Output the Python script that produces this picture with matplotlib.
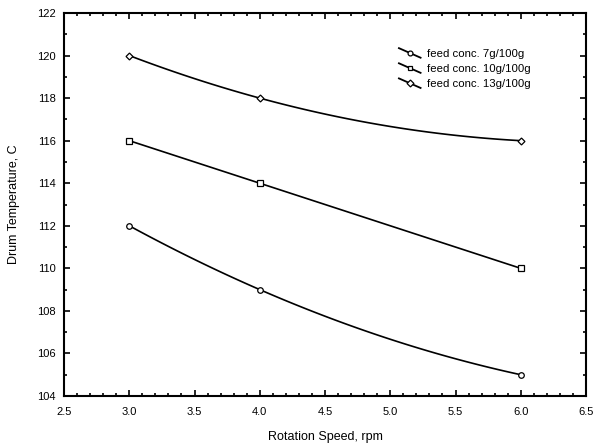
import numpy as np
import matplotlib
matplotlib.use("Agg")
import matplotlib.pyplot as plt
from matplotlib.ticker import MultipleLocator, FormatStrFormatter
from matplotlib.legend_handler import HandlerLine2D
from matplotlib.lines import Line2D

plt.rcParams['font.family'] = ['Liberation Sans', 'DejaVu Sans']

# data
speed = [3.0, 4.0, 6.0]
temp_7g = [112, 109, 105]
temp_10g = [116, 114, 110]
temp_13g = [120, 118, 116]

series = [
    ("feed conc. 7g/100g", temp_7g, 'o'),
    ("feed conc. 10g/100g", temp_10g, 's'),
    ("feed conc. 13g/100g", temp_13g, 'D'),
]


# legend sample drawn as a slanted line with the marker in the middle
class SlantHandler(HandlerLine2D):
    def create_artists(self, legend, orig_handle, xdescent, ydescent,
                       width, height, fontsize, trans):
        x0, x1 = -xdescent, -xdescent + width
        y0, y1 = -ydescent + height * 1.1, -ydescent - height * 0.1
        ln = Line2D([x0, x1], [y0, y1], color='black', lw=1.3, transform=trans)
        mk = Line2D([(x0 + x1) / 2], [(y0 + y1) / 2], linestyle='none',
                    marker=orig_handle.get_marker(), ms=3.5, mfc='white',
                    mec='black', mew=0.9, transform=trans)
        return [ln, mk]


fig = plt.figure(figsize=(5.93, 4.44), dpi=100)
ax = fig.add_axes([64/593, 1 - 396/444, (586-64)/593, (396-13)/444])

xs = np.linspace(min(speed), max(speed), 100)
handles = []
for label, temp, m in series:
    # smooth line through the three points
    coef = np.polyfit(speed, temp, 2)
    ax.plot(xs, np.polyval(coef, xs), color='black', lw=1.2)
    ax.plot(speed, temp, linestyle='none', marker=m, ms=4 if m != 'D' else 3.5,
            mfc='white', mec='black', mew=0.9)
    handles.append(Line2D([], [], color='black', marker=m, label=label))

ax.set_xlim(2.5, 6.5)
ax.set_ylim(104, 122)
ax.xaxis.set_major_locator(MultipleLocator(0.5))
ax.xaxis.set_minor_locator(MultipleLocator(0.1))
ax.yaxis.set_major_locator(MultipleLocator(2))
ax.yaxis.set_minor_locator(MultipleLocator(1))
ax.xaxis.set_major_formatter(FormatStrFormatter('%.1f'))
ax.tick_params(which='both', direction='in', top=True, right=True, labelsize=8, width=1.2)
ax.tick_params(which='major', length=4)
ax.tick_params(which='minor', length=2.5)
ax.tick_params(axis='x', pad=8)
ax.tick_params(axis='y', pad=6)
for s in ax.spines.values():
    s.set_linewidth(1.5)

ax.set_xlabel("Rotation Speed, rpm", fontsize=9, labelpad=10)
ax.set_ylabel("Drum Temperature, C", fontsize=9, labelpad=12)

ax.legend(handles=handles, loc='upper left', bbox_to_anchor=(0.622, 0.933),
          frameon=False, fontsize=8.2, handlelength=1.9, handletextpad=0.6,
          labelspacing=0.45, handler_map={Line2D: SlantHandler()})

fig.savefig("out.png", dpi=100)
